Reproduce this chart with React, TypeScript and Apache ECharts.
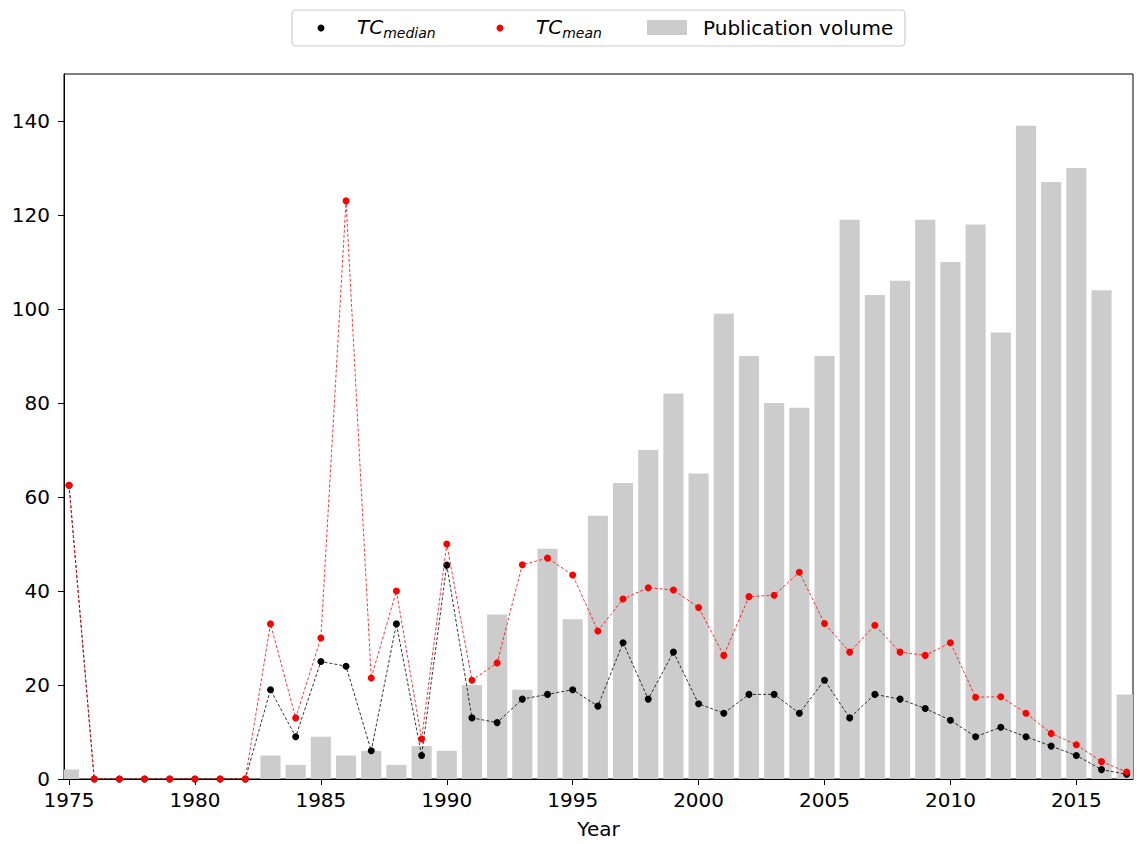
import React, { useEffect, useRef } from "react";
import * as echarts from "echarts";

const years = [1975,1976,1977,1978,1979,1980,1981,1982,1983,1984,1985,1986,1987,1988,1989,1990,1991,1992,1993,1994,1995,1996,1997,1998,1999,2000,2001,2002,2003,2004,2005,2006,2007,2008,2009,2010,2011,2012,2013,2014,2015,2016,2017];
const publicationVolume = [2,0,0,0,0,0,0,0,5,3,9,5,6,3,7,6,20,35,19,49,34,56,63,70,82,65,99,90,80,79,90,119,103,106,119,110,118,95,139,127,130,104,18];
const tcMedian = [62.5,0,0,0,0,0,0,0,19,9,25,24,6,33,5,45.5,13,12,17,18,19,15.5,29,17,27,16,14,18,18,14,21,13,18,17,15,12.5,9,11,9,7,5,2,1];
const tcMean = [62.5,0,0,0,0,0,0,0,33,13,30,123,21.5,40,8.5,50,21,24.7,45.6,47,43.4,31.5,38.3,40.7,40.2,36.5,26.3,38.8,39.1,44,33.1,27,32.7,27,26.3,29,17.4,17.5,14,9.7,7.3,3.7,1.5];
const xTicks = [1975,1980,1985,1990,1995,2000,2005,2010,2015];
const yTicks = [0,20,40,60,80,100,120,140];

const FONT = "DejaVu Sans";

export default function App() {
  const ref = useRef<HTMLDivElement>(null);
  useEffect(() => {
    document.body.style.margin = "0";
    document.body.style.overflow = "hidden";
    document.documentElement.style.overflow = "hidden";
    const chart = echarts.init(ref.current!, null, { renderer: "svg" });
    const barData = years.map((y, i) => [y, publicationVolume[i]]);
    const medData = years.map((y, i) => [y, tcMedian[i]]);
    const meanData = years.map((y, i) => [y, tcMean[i]]);
    const lineCommon = {
      type: "line",
      symbol: "circle",
      symbolSize: 7,
      clip: true,
      lineStyle: { width: 0.8, type: [3, 2] },
    };
    const sub = {
      i: { fontSize: 20, fontStyle: "italic", fontFamily: FONT, fill: "#000" },
      s: { fontSize: 14, fontStyle: "italic", fontFamily: FONT, fill: "#000", padding: [12, 0, 0, 0] },
    };
    chart.setOption({
      animation: false,
      textStyle: { fontFamily: FONT },
      grid: {
        left: 64, right: 4, top: 74, bottom: 60,
        show: true, borderColor: "#000", borderWidth: 1, backgroundColor: "transparent",
      },
      xAxis: {
        type: "value",
        min: 1974.8,
        max: 2017.25,
        name: "Year",
        nameLocation: "middle",
        nameGap: 40,
        nameTextStyle: { fontSize: 20, color: "#000", fontFamily: FONT },
        axisLine: { show: true, lineStyle: { color: "#000", width: 1 } },
        axisTick: { show: true, length: 6, lineStyle: { color: "#000" }, customValues: xTicks },
        axisLabel: {
          fontSize: 20, color: "#000", margin: 11, customValues: xTicks, fontFamily: FONT,
          formatter: (v: number) => String(v),
        },
        splitLine: { show: false },
      },
      yAxis: {
        type: "value",
        min: 0,
        max: 150,
        axisLine: { show: true, lineStyle: { color: "#000", width: 1 } },
        axisTick: { show: true, length: 6, lineStyle: { color: "#000" }, customValues: yTicks },
        axisLabel: {
          fontSize: 20, color: "#000", margin: 14, customValues: yTicks, fontFamily: FONT,
          formatter: (v: number) => String(v),
        },
        splitLine: { show: false },
      },
      series: [
        {
          name: "Publication volume",
          type: "custom",
          clip: true,
          data: barData,
          renderItem: (params: any, api: any) => {
            const x = api.value(0);
            const y = api.value(1);
            const p0 = api.coord([x - 0.4, 0]);
            const p1 = api.coord([x + 0.4, y]);
            return {
              type: "rect",
              shape: { x: p0[0], y: p1[1], width: p1[0] - p0[0], height: p0[1] - p1[1] },
              style: { fill: "#cccccc" },
            };
          },
          z: 1,
        },
        {
          ...lineCommon,
          name: "TC median",
          data: medData,
          itemStyle: { color: "#000" },
          lineStyle: { ...lineCommon.lineStyle, color: "#000" },
          z: 2,
        },
        {
          ...lineCommon,
          name: "TC mean",
          data: meanData,
          itemStyle: { color: "#ff0000" },
          lineStyle: { ...lineCommon.lineStyle, color: "#ff0000" },
          z: 3,
        },
      ],
      graphic: [
        {
          type: "rect",
          shape: { x: 292, y: 10, width: 613, height: 36, r: 4 },
          style: { fill: "#fff", stroke: "#cccccc", lineWidth: 1.2 },
          z: 10,
        },
        { type: "circle", shape: { cx: 321, cy: 28, r: 3.5 }, style: { fill: "#000" }, z: 11 },
        {
          type: "text", x: 357, y: 27, z: 11,
          style: { text: "{i|TC}{s|median}", verticalAlign: "middle", rich: sub },
        },
        { type: "circle", shape: { cx: 500, cy: 28, r: 3.5 }, style: { fill: "#ff0000" }, z: 11 },
        {
          type: "text", x: 536, y: 27, z: 11,
          style: { text: "{i|TC}{s|mean}", verticalAlign: "middle", rich: sub },
        },
        { type: "rect", shape: { x: 647, y: 20, width: 40, height: 15 }, style: { fill: "#cccccc" }, z: 11 },
        {
          type: "text", x: 703, y: 28, z: 11,
          style: { text: "Publication volume", fontSize: 20, fontFamily: FONT, fill: "#000", verticalAlign: "middle" },
        },
      ],
    });
    return () => chart.dispose();
  }, []);
  return <div ref={ref} style={{ width: 1137, height: 844 }} />;
}
